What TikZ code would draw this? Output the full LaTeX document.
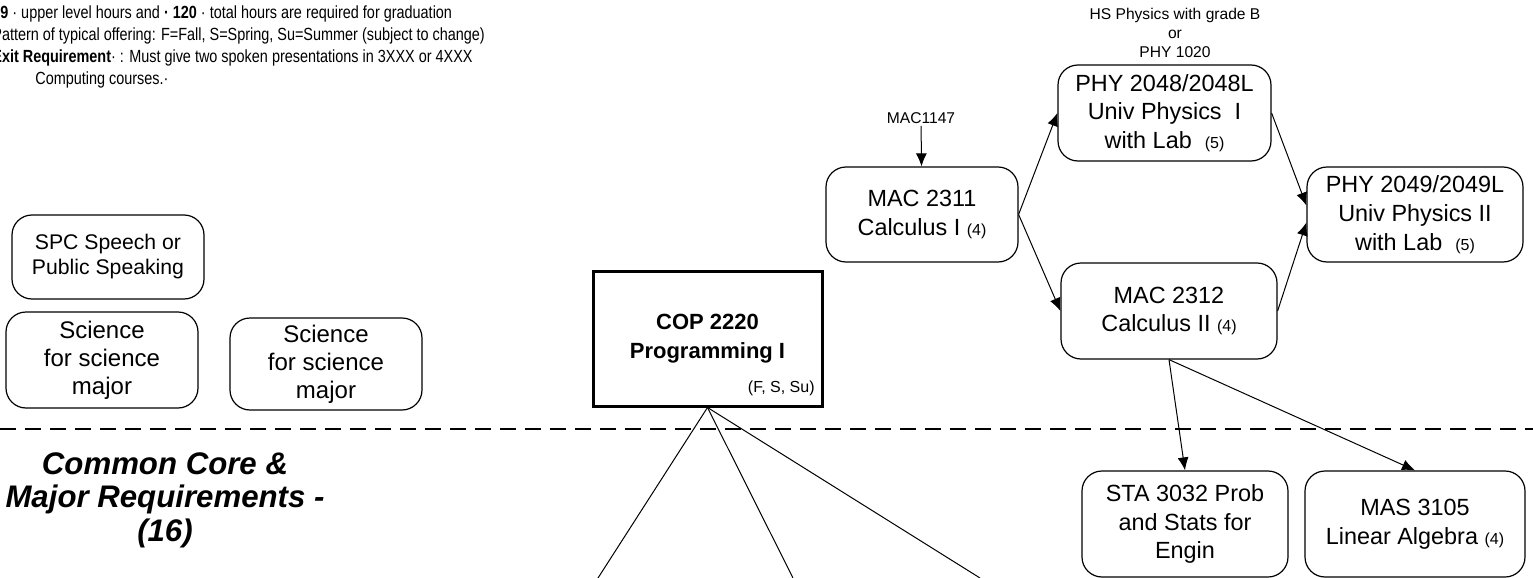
\documentclass[tikz,border=0pt]{standalone}
\usepackage{fontspec}
\setmainfont{Liberation Sans}
\newfontfamily\notefont[FakeStretch=0.82]{Liberation Sans}
\usetikzlibrary{arrows.meta}
\newcommand\credits[1]{{\fontsize{8}{9}\selectfont(#1)}}

\begin{document}
\begin{tikzpicture}[x=0.5pt,y=-0.5pt,
		course/.style={draw,rounded corners=10pt,line width=0.6pt,align=center,inner sep=2pt,font=\fontsize{11.7}{14.4}\selectfont},
		prereq/.style={align=center,inner sep=1pt,font=\fontsize{7.8}{9.5}\selectfont},
		>={Latex[length=6.5pt,width=5.5pt]}]
	\useasboundingbox (0,0) rectangle (1533,578);
	\clip (0,0) rectangle (1533,578);
	% notes and headings
	\node[anchor=north west,align=left,inner sep=0pt,font=\notefont\fontsize{8.8}{11}\selectfont] (notes) at (-8,5) {\hspace*{4pt}\textbf{9} · upper level hours and \textbf{· 120} · total hours are required for graduation\\Pattern of typical offering: F=Fall, S=Spring, Su=Summer (subject to change)\\\textbf{Exit Requirement}· : Must give two spoken presentations in 3XXX or 4XXX\\\hspace*{21.5pt}Computing courses.·};
	\node[align=center,font=\bfseries\itshape\fontsize{15.6}{16.8}\selectfont] (core) at (165,500) {Common Core \&\\Major Requirements -\\(16)};
	\draw[line width=1pt,dash pattern=on 8pt off 4.5pt] (0,429) -- (1533,429);
	% courses
	\node[course,font=\fontsize{10.6}{12.5}\selectfont,minimum width=96pt,minimum height=42pt] (spc) at (108,257) {SPC Speech or\\Public Speaking};
	\node[course,font=\fontsize{12}{14}\selectfont,minimum width=96pt,minimum height=48pt] (sci1) at (102,360) {Science\\for science\\major};
	\node[course,font=\fontsize{12}{14}\selectfont,minimum width=96pt,minimum height=46pt] (sci2) at (326,364) {Science\\for science\\major};
	\node[draw,line width=1.5pt,minimum width=114.5pt,minimum height=67.5pt] (cop2220) at (707.5,338.5) {};
	\node[align=center,font=\bfseries\fontsize{11}{14.5}\selectfont] (coptitle) at (707.5,339) {COP 2220\\Programming I};
	\node[anchor=east,inner sep=0pt,font=\fontsize{8}{9}\selectfont] (copterm) at (815,388) {(F, S, Su)};
	\node[course,minimum width=96pt,minimum height=47.5pt] (mac2311) at (922,214.5) {MAC 2311\\Calculus I \credits{4}};
	\node[course,minimum width=106.5pt,minimum height=48pt] (phy2048) at (1164.5,113) {PHY 2048/2048L\\Univ Physics~ I\\with Lab~ \credits{5}};
	\node[course,minimum width=108pt,minimum height=47.5pt] (phy2049) at (1415,214.5) {PHY 2049/2049L\\Univ Physics II\\with Lab~ \credits{5}};
	\node[course,minimum width=108pt,minimum height=48pt] (mac2312) at (1169,311) {MAC 2312\\Calculus II \credits{4}};
	\node[course,minimum width=103pt,minimum height=53pt] (sta3032) at (1185,524) {STA 3032 Prob\\and Stats for\\Engin};
	\node[course,minimum width=110pt,minimum height=53pt] (mas3105) at (1415,524) {MAS 3105\\Linear Algebra \credits{4}};
	% prerequisites
	\node[prereq] (mac1147) at (921,118) {MAC1147};
	\node[prereq] (hsphys) at (1175,33) {HS Physics with grade B\\or\\PHY 1020};
	\coordinate (out1) at (598,578);
	\coordinate (out2) at (793,578);
	\coordinate (out3) at (980,578);
	% arrows
	\draw[->,line width=0.5pt] (mac1147) -- (mac2311);
	\draw[->,line width=0.5pt] (mac2311.east) -- (phy2048.west);
	\draw[->,line width=0.5pt] (mac2311.east) -- (mac2312.west);
	\draw[->,line width=0.5pt] (phy2048.east) -- ([yshift=4.5pt]phy2049.west);
	\draw[->,line width=0.5pt] (mac2312.east) -- ([yshift=-4pt]phy2049.west);
	\draw[->,line width=0.5pt] (mac2312.south) -- (sta3032.north);
	\draw[->,line width=0.5pt] (mac2312.south) -- (mas3105.north);
	\draw[line width=0.5pt] (cop2220.south) -- (out1);
	\draw[line width=0.5pt] (cop2220.south) -- (out2);
	\draw[line width=0.5pt] (cop2220.south) -- (out3);
\end{tikzpicture}
\end{document}
